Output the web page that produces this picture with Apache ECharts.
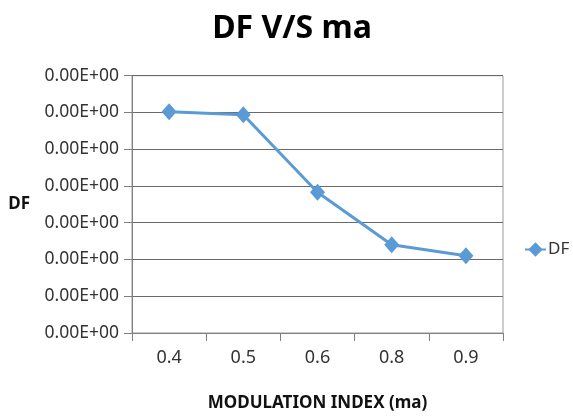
<!DOCTYPE html>
<html>
<head>
<meta charset="utf-8">
<script src="https://cdn.jsdelivr.net/npm/echarts@6/dist/echarts.min.js"></script>
<style>
html,body{margin:0;padding:0;background:#fff;}
#chart{width:573px;height:417px;}
</style>
</head>
<body>
<div id="chart"></div>
<script>
var titleText = 'DF V/S ma';
var xAxisTitle = 'MODULATION INDEX (ma)';
var yAxisTitle = 'DF';
var seriesName = 'DF';
var categories = ['0.4', '0.5', '0.6', '0.8', '0.9'];
var dfValues = [6.02, 5.94, 3.83, 2.40, 2.10];
var yTickLabels = ['0.00E+00', '0.00E+00', '0.00E+00', '0.00E+00', '0.00E+00', '0.00E+00', '0.00E+00', '0.00E+00'];

var FONT = 'Noto Sans';
var chart = echarts.init(document.getElementById('chart'), null, {renderer: 'canvas'});
chart.setOption({
  animation: false,
  backgroundColor: '#ffffff',
  title: {
    text: titleText,
    left: 287,
    textAlign: 'center',
    top: 8,
    textStyle: {fontFamily: FONT, fontSize: 32, fontWeight: 'bold', color: '#000'}
  },
  legend: {
    data: [seriesName],
    left: 524,
    top: 241,
    padding: 0,
    itemWidth: 21,
    itemHeight: 18,
    itemGap: 5,
    textStyle: {fontFamily: FONT, fontSize: 17, color: '#333', padding: [0, 0, 0, -3]}
  },
  grid: {
    left: 132, right: 70, top: 75.7, bottom: 81.3,
    show: true, borderColor: '#9a9a9a', borderWidth: 1
  },
  xAxis: {
    type: 'category',
    data: categories,
    boundaryGap: true,
    name: xAxisTitle,
    nameLocation: 'middle',
    nameGap: 62,
    nameTextStyle: {fontFamily: FONT, fontSize: 17, fontWeight: 'bold', color: '#111'},
    axisLine: {show: true, lineStyle: {color: '#808080', width: 1}},
    axisTick: {show: true, alignWithLabel: false, length: 8, lineStyle: {color: '#808080'}},
    axisLabel: {fontFamily: FONT, fontSize: 18, color: '#333', margin: 16},
    splitLine: {show: false}
  },
  yAxis: {
    type: 'value',
    min: 0,
    max: 7,
    interval: 1,
    name: yAxisTitle,
    nameLocation: 'middle',
    nameRotate: 0,
    nameGap: 102,
    nameTextStyle: {fontFamily: FONT, fontSize: 17, fontWeight: 'bold', color: '#111'},
    axisLine: {show: true, lineStyle: {color: '#808080', width: 1}},
    axisTick: {show: true, inside: false, length: 8, lineStyle: {color: '#808080'}},
    axisLabel: {
      fontFamily: FONT, fontSize: 17.5, color: '#333', margin: 13,
      formatter: function (v) { return yTickLabels[Math.round(v)]; }
    },
    splitLine: {show: true, lineStyle: {color: '#6a6a6a', width: 1}}
  },
  series: [{
    name: seriesName,
    type: 'line',
    data: dfValues,
    symbol: 'diamond',
    symbolSize: [15, 17],
    lineStyle: {color: '#5b9bd5', width: 3},
    itemStyle: {color: '#5b9bd5'}
  }]
});
</script>
</body>
</html>
